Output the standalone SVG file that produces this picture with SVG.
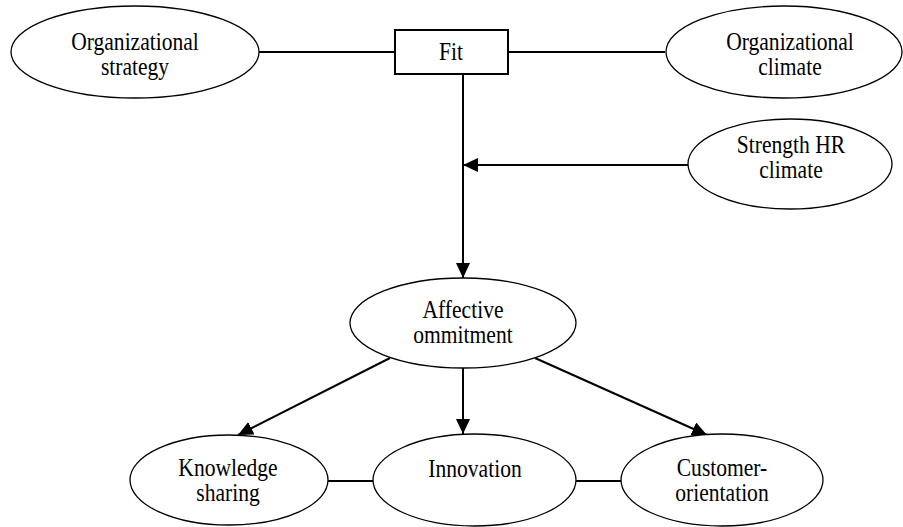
<svg xmlns="http://www.w3.org/2000/svg" width="903" height="527" viewBox="0 0 903 527">
<style>
.n{fill:#fff;stroke:#000;stroke-width:1.3}
.b{fill:#fff;stroke:#000;stroke-width:2}
.t{font-family:"Liberation Serif","Times New Roman",serif;font-size:24.5px;fill:#000;text-anchor:middle}
.c{stroke:#000;stroke-width:2;fill:none}
</style>
<defs>
<marker id="ah" markerWidth="15" markerHeight="14" refX="15" refY="7" orient="auto" markerUnits="userSpaceOnUse">
<path d="M0,0 L15,7 L0,14 Z" fill="#000"/>
</marker>
</defs>
<g id="connectors">
<line class="c" x1="259" y1="52" x2="395" y2="52"/>
<line class="c" x1="508" y1="52" x2="665" y2="52"/>
<line class="c" x1="463" y1="74" x2="463" y2="278" marker-end="url(#ah)"/>
<line class="c" x1="688" y1="165" x2="463" y2="165" marker-end="url(#ah)"/>
<line class="c" x1="390" y1="358" x2="238" y2="435" marker-end="url(#ah)"/>
<line class="c" x1="463" y1="368" x2="463" y2="434" marker-end="url(#ah)"/>
<line class="c" x1="535" y1="358" x2="707" y2="435" marker-end="url(#ah)"/>
<line class="c" x1="328" y1="481" x2="373" y2="481"/>
<line class="c" x1="576" y1="481" x2="621" y2="481"/>
</g>
<g id="org-strategy">
<ellipse class="n" cx="135" cy="52" rx="124" ry="46"/>
<text class="t" transform="translate(135,50) scale(0.88,1)"><tspan x="0" y="0">Organizational</tspan><tspan x="0" y="25">strategy</tspan></text>
</g>
<g id="fit">
<rect class="b" x="395" y="30" width="113" height="44"/>
<text class="t" transform="translate(451,60) scale(0.88,1)">Fit</text>
</g>
<g id="org-climate">
<ellipse class="n" cx="784" cy="52" rx="118" ry="46"/>
<text class="t" transform="translate(790,50) scale(0.88,1)"><tspan x="0" y="0">Organizational</tspan><tspan x="0" y="25">climate</tspan></text>
</g>
<g id="strength-hr">
<ellipse class="n" cx="790" cy="164" rx="102" ry="45"/>
<text class="t" transform="translate(791,153) scale(0.88,1)"><tspan x="0" y="0">Strength HR</tspan><tspan x="0" y="25">climate</tspan></text>
</g>
<g id="affective">
<ellipse class="n" cx="463" cy="323" rx="113" ry="45"/>
<text class="t" transform="translate(463,318) scale(0.88,1)"><tspan x="0" y="0">Affective</tspan><tspan x="0" y="25">ommitment</tspan></text>
</g>
<g id="knowledge">
<ellipse class="n" cx="229" cy="480" rx="99" ry="45"/>
<text class="t" transform="translate(228,476) scale(0.88,1)"><tspan x="0" y="0">Knowledge</tspan><tspan x="0" y="25">sharing</tspan></text>
</g>
<g id="innovation">
<ellipse class="n" cx="474.5" cy="480" rx="101.5" ry="46"/>
<text class="t" transform="translate(475,477) scale(0.88,1)">Innovation</text>
</g>
<g id="customer">
<ellipse class="n" cx="722" cy="480" rx="101" ry="46"/>
<text class="t" transform="translate(722,476) scale(0.88,1)"><tspan x="0" y="0">Customer-</tspan><tspan x="0" y="25">orientation</tspan></text>
</g>
</svg>
